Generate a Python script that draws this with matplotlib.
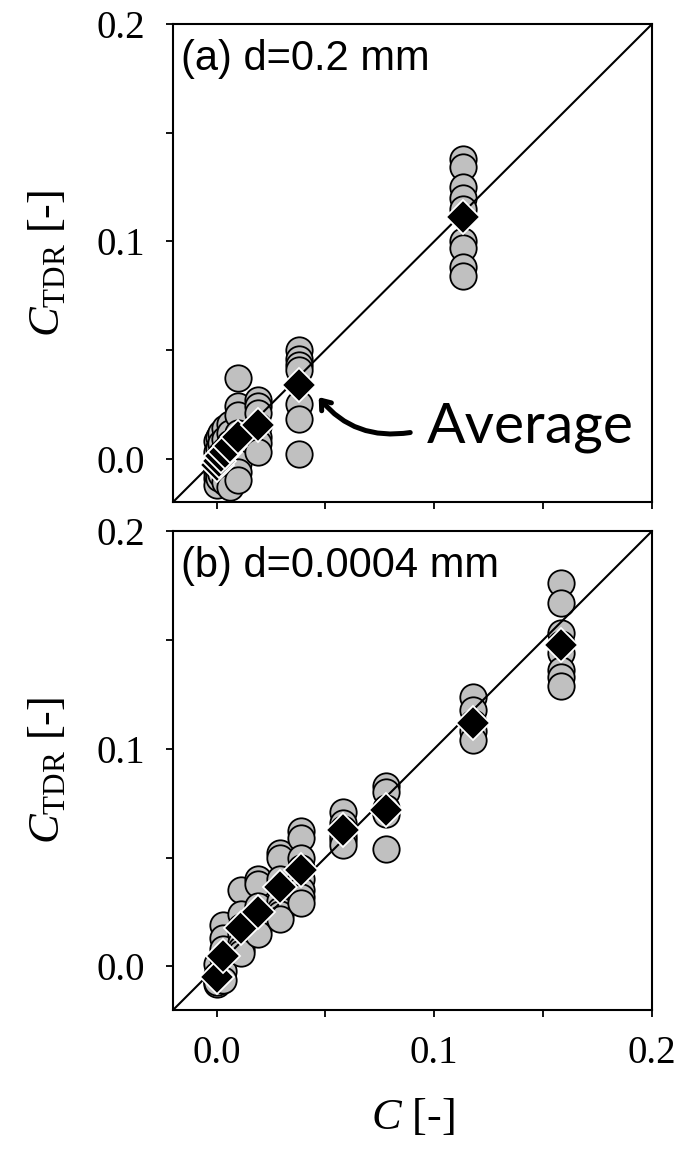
import numpy as np
import matplotlib
matplotlib.use("Agg")
import matplotlib.pyplot as plt

plt.rcParams["font.family"] = ["Liberation Serif", "DejaVu Serif"]
plt.rcParams["mathtext.fontset"] = "custom"
plt.rcParams["mathtext.rm"] = "Liberation Serif"
plt.rcParams["mathtext.it"] = "Liberation Serif:italic"

# (a) d=0.2 mm : measured C_TDR per imposed concentration
a_conc = [0.0, 0.001, 0.002, 0.004, 0.006, 0.010, 0.019, 0.038, 0.113]
a_meas = [
    [0.008, 0.003, -0.002, -0.006, -0.009, -0.012],
    [0.010, 0.005, 0.000, -0.005, -0.008, -0.009],
    [0.012, 0.007, 0.002, -0.004, -0.006, -0.007],
    [0.014, 0.009, 0.004, -0.002, -0.006, -0.011],
    [0.016, 0.012, 0.007, 0.002, -0.006, -0.013],
    [0.037, 0.024, 0.020, 0.012, 0.005, -0.002, -0.006, -0.010],
    [0.027, 0.024, 0.021, 0.015, 0.010, 0.007, 0.003],
    [0.050, 0.046, 0.043, 0.041, 0.025, 0.018, 0.002],
    [0.138, 0.134, 0.125, 0.120, 0.115, 0.100, 0.097, 0.088, 0.084],
]
a_avg = [-0.003, -0.001, 0.001, 0.003, 0.006, 0.010, 0.0155, 0.034, 0.111]

# (b) d=0.0004 mm
b_conc = [0.0, 0.003, 0.011, 0.019, 0.029, 0.039, 0.058, 0.078, 0.118, 0.158]
b_meas = [
    [0.001, -0.004, -0.006, -0.008, -0.007],
    [0.019, 0.013, 0.008, 0.004, -0.002, -0.006],
    [0.035, 0.024, 0.018, 0.015, 0.011, 0.008, 0.006],
    [0.040, 0.038, 0.028, 0.022, 0.019, 0.017, 0.015],
    [0.052, 0.050, 0.040, 0.036, 0.030, 0.026, 0.024, 0.022],
    [0.062, 0.059, 0.050, 0.045, 0.040, 0.035, 0.032, 0.029],
    [0.071, 0.066, 0.063, 0.060, 0.058, 0.056],
    [0.083, 0.080, 0.073, 0.070, 0.054],
    [0.124, 0.118, 0.112, 0.108, 0.104],
    [0.176, 0.167, 0.153, 0.148, 0.144, 0.136, 0.133, 0.129],
]
b_avg = [-0.005, 0.005, 0.0176, 0.025, 0.0365, 0.0443, 0.0627, 0.0718, 0.1118, 0.1476]

ticks = [0.0, 0.05, 0.1, 0.15, 0.2]
tick_labels = ["0.0", "", "0.1", "", "0.2"]
lims = (-0.02, 0.2)

fig = plt.figure(figsize=(6.88, 11.56), dpi=100)
ax_a = fig.add_axes([0.2515, 0.5657, 0.6962, 0.4135])
ax_b = fig.add_axes([0.2515, 0.1263, 0.6962, 0.4143])


def draw_panel(ax, conc, meas, avg, title, show_x):
    for c, vals in zip(conc, meas):
        ax.plot([c] * len(vals), vals, "o", ms=19, mfc="#c0c0c0",
                mec="black", mew=1.3, zorder=2)
    ax.plot(lims, lims, color="black", lw=1.5, zorder=3)
    ax.plot(conc, avg, "D", ms=17.5, mfc="black", mec="white", mew=1.3,
            zorder=4)

    ax.set_xlim(lims)
    ax.set_ylim(lims)
    ax.set_xticks(ticks)
    ax.set_yticks(ticks)
    ax.set_yticklabels(tick_labels)
    if show_x:
        ax.set_xticklabels(tick_labels)
    else:
        ax.set_xticklabels([])
    ax.tick_params(direction="out", length=5, width=1.3, labelsize=28)
    ax.tick_params(axis="y", pad=15)
    ax.tick_params(axis="x", pad=13)
    for s in ax.spines.values():
        s.set_linewidth(1.5)

    ax.set_ylabel(r"$C_\mathrm{TDR}$ [-]", fontsize=32)
    ax.yaxis.set_label_coords(-0.22, 0.5)
    ax.text(0.017, 0.904, title, transform=ax.transAxes, fontsize=30,
            family=["Liberation Sans", "DejaVu Sans"], va="baseline")


draw_panel(ax_a, a_conc, a_meas, a_avg, "(a) d=0.2 mm", False)
draw_panel(ax_b, b_conc, b_meas, b_avg, "(b) d=0.0004 mm", True)

ax_b.set_xlabel(r"$C$ [-]", fontsize=32, va="center")
ax_b.xaxis.set_label_coords(0.5, -0.225)

# arrow pointing at the mean marker
ax_a.annotate("", xy=(0.0461, 0.0293), xytext=(0.0902, 0.0122),
              arrowprops=dict(arrowstyle="->,head_length=0.6,head_width=0.45",
                              lw=3.6, color="black",
                              connectionstyle="arc3,rad=-0.3"),
              zorder=5)
ax_a.text(0.0967, 0.0076, "Average", fontsize=41,
          family=["Lato", "DejaVu Sans"], va="baseline", ha="left")

fig.savefig("out.png", dpi=100)
